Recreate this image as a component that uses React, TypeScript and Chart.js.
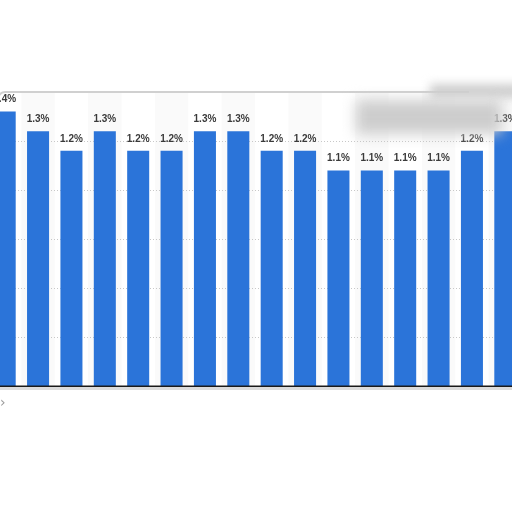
import React, { useRef, useEffect } from 'react';
import { Chart, registerables, Plugin } from 'chart.js';

Chart.register(...registerables);

// Visible categories (axis labels are cropped out of the reference)
const years = ['2005', '2006', '2007', '2008', '2009', '2010', '2011', '2012', '2013', '2014', '2015', '2016', '2017', '2018', '2019', '2020'];
const shares = [1.4, 1.3, 1.2, 1.3, 1.2, 1.2, 1.3, 1.3, 1.2, 1.2, 1.1, 1.1, 1.1, 1.1, 1.2, 1.3];
const gridTicks = [0.25, 0.5, 0.75, 1, 1.25];

const BAR_BLUE = '#2b74d9';

// bands, dotted grid, baseline and value labels
const decorations: Plugin<'bar'> = {
    id: 'decorations',
    beforeDatasetsDraw(chart) {
        const { ctx, chartArea, scales } = chart;
        const x = scales.x;
        const y = scales.y;
        const step = x.width / years.length;
        ctx.save();
        ctx.fillStyle = '#fafafa';
        years.forEach((_, i) => {
            if (i % 2 === 1) {
                const cx = x.getPixelForValue(i);
                ctx.fillRect(cx - step / 2, chartArea.top, step, chartArea.bottom - chartArea.top);
            }
        });
        ctx.strokeStyle = '#c8c8c8';
        ctx.lineWidth = 1;
        ctx.setLineDash([1, 2]);
        gridTicks.forEach((t) => {
            const py = Math.round(y.getPixelForValue(t)) + 0.5;
            ctx.beginPath();
            ctx.moveTo(0, py);
            ctx.lineTo(chart.width, py);
            ctx.stroke();
        });
        ctx.restore();
    },
    afterDatasetsDraw(chart) {
        const { ctx, scales } = chart;
        const y0 = scales.y.getPixelForValue(0);
        ctx.save();
        ctx.fillStyle = '#dcdcdc';
        ctx.fillRect(0, y0 + 1, chart.width, 3);
        ctx.fillStyle = '#1a1a1a';
        ctx.fillRect(0, y0 - 0.5, chart.width, 1.5);

        ctx.fillStyle = '#3a3a3a';
        ctx.font = 'bold 10px "Liberation Sans", Arial, sans-serif';
        ctx.textAlign = 'center';
        ctx.textBaseline = 'middle';
        const meta = chart.getDatasetMeta(0);
        meta.data.forEach((bar, i) => {
            ctx.fillText(shares[i].toFixed(1) + '%', bar.x, bar.y - 12);
        });
        ctx.restore();
    },
};

const App: React.FC = () => {
    const chartRef = useRef<HTMLCanvasElement>(null);
    const chartInstance = useRef<Chart | null>(null);

    useEffect(() => {
        if (!chartRef.current) return;
        const ctx = chartRef.current.getContext('2d');
        if (!ctx) return;

        if (chartInstance.current) {
            chartInstance.current.destroy();
        }

        chartInstance.current = new Chart(ctx, {
            type: 'bar',
            data: {
                labels: years,
                datasets: [
                    {
                        data: shares,
                        backgroundColor: BAR_BLUE,
                        borderWidth: 0,
                        barPercentage: 0.66,
                        categoryPercentage: 1,
                    },
                ],
            },
            options: {
                responsive: false,
                animation: false,
                layout: { padding: { top: 92, bottom: 126, left: 0, right: 0 } },
                scales: {
                    x: { display: false },
                    y: { display: false, min: 0, max: 1.5 },
                },
                plugins: {
                    legend: { display: false },
                    tooltip: { enabled: false },
                },
            },
            plugins: [decorations],
        });

        return () => {
            if (chartInstance.current) {
                chartInstance.current.destroy();
                chartInstance.current = null;
            }
        };
    }, []);

    return (
        <div style={{ position: 'fixed', top: 0, left: 0, width: 512, height: 512, overflow: 'hidden', background: '#fff' }}>
            <canvas ref={chartRef} width={534} height={512} style={{ position: 'absolute', left: -12, top: 0, width: 534, height: 512 }}></canvas>
            {/* frame edge */}
            <div style={{ position: 'absolute', left: -3, top: 91, width: 470, height: 40, borderTop: '2px solid #d0d0d0', borderLeft: '2px solid #d0d0d0', borderTopLeftRadius: 8, pointerEvents: 'none' }}></div>
            {/* blurred overlays */}
            <div style={{ position: 'absolute', left: 430, top: 84, width: 100, height: 14, background: '#cfcfcf', filter: 'blur(5px)' }}></div>
            <div style={{ position: 'absolute', left: 356, top: 100, width: 146, height: 34, background: '#cdcdcd', filter: 'blur(7px)' }}></div>
            <span style={{ position: 'absolute', left: 0, top: 394, fontFamily: '"DejaVu Sans", sans-serif', fontSize: 14, color: '#9a9a9a' }}>›</span>
        </div>
    );
};

export default App;
